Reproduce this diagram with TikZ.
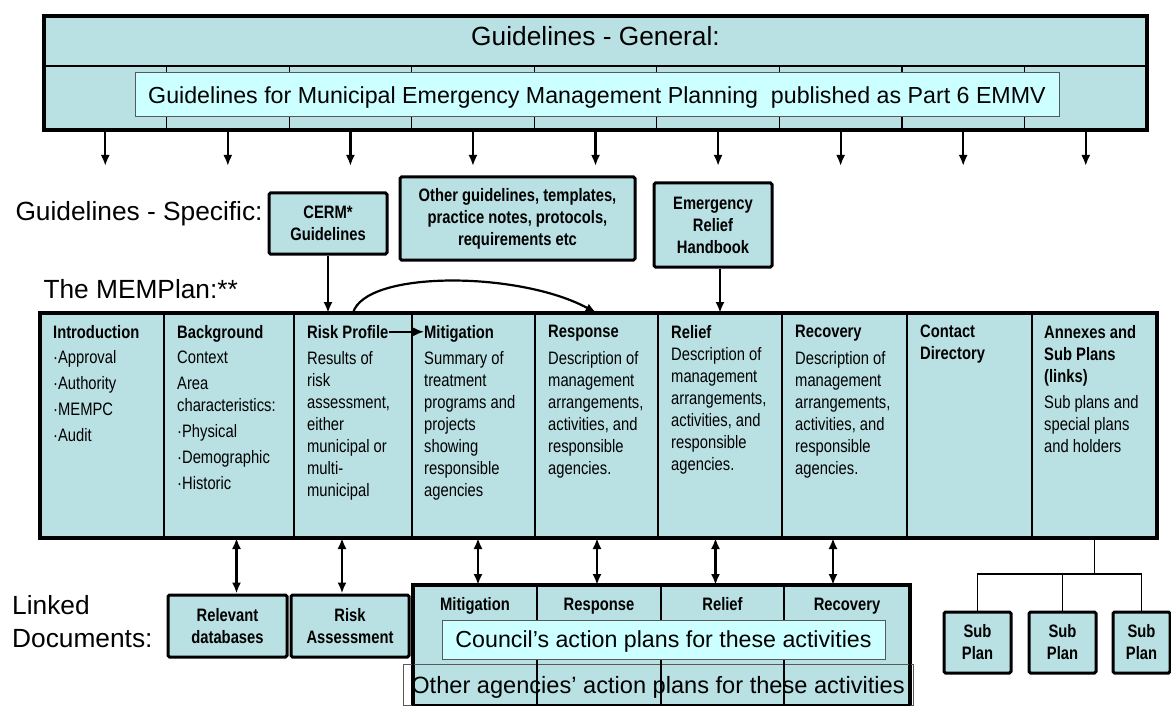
\documentclass[tikz,border=0pt]{standalone}
\usepackage{fontspec}
\setmainfont{Liberation Sans}
\newfontfamily\narrowfont[FakeStretch=0.82]{Liberation Sans}
\usetikzlibrary{arrows.meta}
\definecolor{planteal}{HTML}{B9E0E3}
\definecolor{notecyan}{HTML}{CCFFFF}

\begin{document}
\begin{tikzpicture}[x=1pt, y=-1pt,
  >={Latex[length=11pt,width=9pt]},
  big/.style={font=\fontsize{26.3}{32}\selectfont},
  frame/.style={draw, line width=3.5pt, fill=planteal, inner sep=0pt, outer sep=0pt},
  cell/.style={draw, line width=1.2pt, inner sep=0pt, outer sep=0pt},
  plancol/.style={cell, fill=planteal, minimum height=225},
  doc/.style={draw, line width=3pt, fill=planteal, rounded corners=1.5pt, align=center, inner sep=0pt,
    font=\narrowfont\bfseries\fontsize{18}{22}\selectfont},
  notebox/.style={draw=gray!70!black, line width=1pt, fill=notecyan, inner sep=0pt, text depth=0pt,
    font=\fontsize{23.2}{28}\selectfont},
  head/.style={anchor=north west, inner sep=0pt, align=left, font=\narrowfont\bfseries\fontsize{18}{22}\selectfont},
  body/.style={anchor=north west, inner sep=0pt, align=left, font=\narrowfont\fontsize{18}{22}\selectfont},
  arr/.style={line width=2.2pt},
  thinline/.style={line width=1.2pt}
]
  \useasboundingbox (0,0) rectangle (1171,706);

  \node[frame, minimum width=1103, minimum height=114] (general) at (595.5,73) {};
  \node[big, anchor=base] (generalT) at (595.5,46) {Guidelines - General:};
  \foreach \i in {0,...,8}
    \node[cell, minimum width=122.56, minimum height=64] (g\i) at ({105.28+\i*122.56},98) {};
  \node[notebox, minimum width=924, minimum height=44] (gmemp) at (597,95)
    {Guidelines for Municipal Emergency Management Planning~ published as Part 6 EMMV};
  \foreach \i in {0,...,8} {
    \coordinate (ga\i) at ([yshift=-36pt]g\i.south);
    \draw[arr,->] (g\i.south) -- (ga\i);
  }

  \node[big, anchor=base west] (specT) at (12,220) {Guidelines - Specific:};
  \node[doc, minimum width=118, minimum height=61] (cerm) at (328,223.5) {CERM*\\Guidelines};
  \node[doc, minimum width=235, minimum height=83] (other) at (517.5,218.5)
    {Other guidelines, templates,\\practice notes, protocols,\\requirements etc};
  \node[doc, minimum width=118, minimum height=84] (erh) at (713,225) {Emergency\\Relief\\Handbook};
  \node[big, anchor=base west] (planT) at (40,298) {The MEMPlan:**};

  \foreach \n/\l/\r in {cIntro/40/164,cBack/164/294,cRisk/294/412,cMit/412/535,cResp/535/658,
                        cRel/658/782,cRec/782/907,cCon/907/1032,cAnx/1032/1157}
    \node[plancol, minimum width={\r-\l}] (\n) at ({(\l+\r)/2},425.5) {};
  \draw[line width=3.5pt] (cIntro.north west) rectangle (cAnx.south east);

  \node[head] (hIntro) at ([shift={(13pt,-12pt)}]cIntro.north west) {Introduction};
  \node[body] (bIntro) at ([shift={(13pt,-37pt)}]cIntro.north west)
    {·Approval\\[4pt]·Authority\\[4pt]·MEMPC\\[4pt]·Audit};
  \node[head] (hBack) at ([shift={(13pt,-12pt)}]cBack.north west) {Background};
  \node[body] (bBack) at ([shift={(13pt,-38pt)}]cBack.north west)
    {Context\\[4pt]Area\\characteristics:\\[4pt]·Physical\\[4pt]·Demographic\\[4pt]·Historic};
  \node[head] (hRisk) at ([shift={(13pt,-12pt)}]cRisk.north west) {Risk Profile};
  \node[body] (bRisk) at ([shift={(13pt,-38pt)}]cRisk.north west)
    {Results of\\risk\\assessment,\\either\\municipal or\\multi-\\municipal};
  \node[head] (hMit) at ([shift={(12pt,-12pt)}]cMit.north west) {Mitigation};
  \node[body] (bMit) at ([shift={(12pt,-38pt)}]cMit.north west)
    {Summary of\\treatment\\programs and\\projects\\showing\\responsible\\agencies};
  \node[head] (hResp) at ([shift={(13pt,-12pt)}]cResp.north west) {Response};
  \node[body] (bResp) at ([shift={(13pt,-38pt)}]cResp.north west)
    {Description of\\management\\arrangements,\\activities, and\\responsible\\agencies.};
  \node[head] (hRel) at ([shift={(13pt,-12pt)}]cRel.north west) {Relief};
  \node[body] (bRel) at ([shift={(13pt,-34pt)}]cRel.north west)
    {Description of\\management\\arrangements,\\activities, and\\responsible\\agencies.};
  \node[head] (hRec) at ([shift={(13pt,-12pt)}]cRec.north west) {Recovery};
  \node[body] (bRec) at ([shift={(13pt,-38pt)}]cRec.north west)
    {Description of\\management\\arrangements,\\activities, and\\responsible\\agencies.};
  \node[head] (hCon) at ([shift={(13pt,-12pt)}]cCon.north west) {Contact\\Directory};
  \node[head] (hAnx) at ([shift={(12pt,-12pt)}]cAnx.north west) {Annexes and\\Sub Plans\\(links)};
  \node[body] (bAnx) at ([shift={(12pt,-82pt)}]cAnx.north west)
    {Sub plans and\\special plans\\and holders};

  \draw[line width=1.8pt,->] (hRisk.east) -- (hRisk.east -| hMit.west);
  \draw[arr,->] (cRisk.north) .. controls +(12,-43) and +(-77,-42) .. (cResp.north);
  \draw[arr,->] (cerm.south) -- (cerm.south |- cRisk.north);
  \draw[arr,->] (cRel.north |- erh.south) -- (cRel.north);

  \node[anchor=north west, inner sep=0pt, align=left, font=\fontsize{26.3}{33}\selectfont] (linkT) at (12,595)
    {Linked\\Documents:};
  \node[doc, minimum width=119, minimum height=62] (rdb) at (227.5,626) {Relevant\\databases};
  \node[doc, minimum width=118, minimum height=62] (rass) at (350,626) {Risk\\Assessment};
  \coordinate (rdbTop) at ([xshift=9pt]rdb.north);
  \coordinate (rassTop) at ([xshift=-8pt]rass.north);
  \draw[arr,<->] (rdbTop) -- (rdbTop |- cBack.south);
  \draw[arr,<->] (rassTop) -- (rassTop |- cRisk.south);

  \node[frame, minimum width=497, minimum height=125] (actions) at (661.5,647.5) {};
  \node[draw=gray!70!black, line width=1pt, minimum width=510, minimum height=41, inner sep=0pt,
    text depth=0pt, font=\fontsize{23.6}{28}\selectfont] (others) at (658,684.5)
    {Other agencies’ action plans for these activities};
  \foreach \n/\l/\r in {lMit/413/537,lResp/537/661,lRel/661/784,lRec/784/910}
    \node[cell, minimum width={\r-\l}, minimum height=120] (\n) at ({(\l+\r)/2},645) {};
  \node[notebox, minimum width=443, minimum height=39] (council) at (663.5,639.5)
    {Council’s action plans for these activities};
  \foreach \n/\t in {lMit/Mitigation,lResp/Response,lRel/Relief,lRec/Recovery}
    \node[head, anchor=base] (\n-t) at ([yshift=-25.7pt]\n.north) {\t};
  \foreach \n/\s in {lMit/3,lResp/-2,lRel/-7,lRec/-14} {
    \coordinate (\n-top) at ([xshift=\s pt]\n.north);
    \draw[arr,<->] (\n-top) -- (\n-top |- cMit.south);
  }

  \node[doc, minimum width=67, minimum height=61] (sub1) at (977.5,642.5) {Sub\\Plan};
  \node[doc, minimum width=67, minimum height=61] (sub2) at (1062.5,642.5) {Sub\\Plan};
  \node[doc, minimum width=57, minimum height=61] (sub3) at (1141.5,642.5) {Sub\\Plan};
  \coordinate (fork) at ([yshift=-36pt]cAnx.south);
  \draw[thinline] (cAnx.south) -- (fork);
  \draw[thinline] (sub1.north) |- (fork) -| (sub3.north);
  \draw[thinline] (sub2.north) -- (sub2.north |- fork);
\end{tikzpicture}
\end{document}
